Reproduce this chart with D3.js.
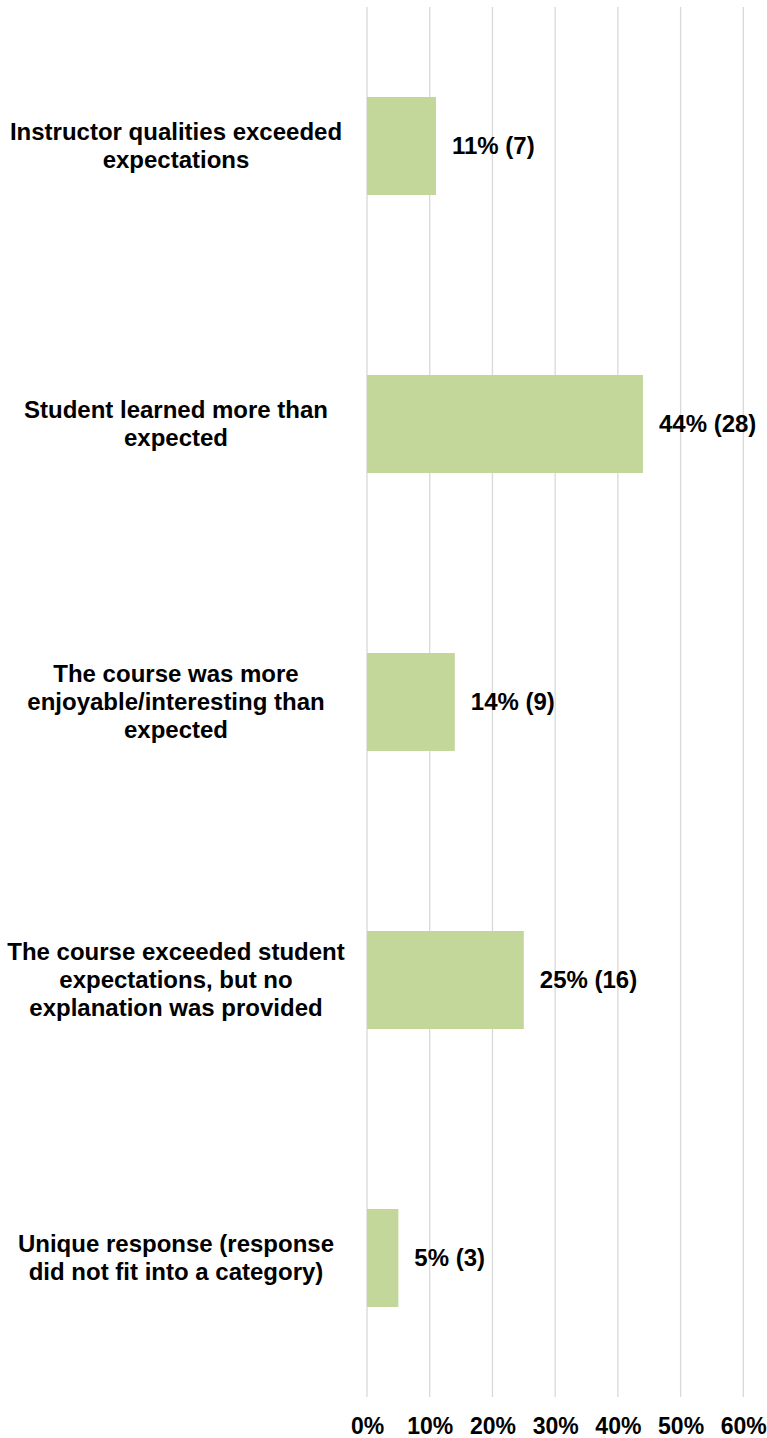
<!DOCTYPE html>
<html>
<head>
<meta charset="utf-8">
<script src="https://cdn.jsdelivr.net/npm/d3@7"></script>
<style>
  html, body { margin: 0; padding: 0; background: #ffffff; }
  svg { display: block; }
  text { font-family: "Liberation Sans", Arial, sans-serif; font-weight: bold; fill: #000; }
</style>
</head>
<body>
<script>
const categories = [
  "Instructor qualities exceeded\nexpectations",
  "Student learned more than\nexpected",
  "The course was more\nenjoyable/interesting than\nexpected",
  "The course exceeded student\nexpectations, but no\nexplanation was provided",
  "Unique response (response\ndid not fit into a category)"
];
const percents = [0.11, 0.44, 0.14, 0.25, 0.05];
const counts = [7, 28, 9, 16, 3];
const tickValues = [0, 0.1, 0.2, 0.3, 0.4, 0.5, 0.6];

const W = 767, H = 1438;
const svg = d3.select("body").append("svg").attr("width", W).attr("height", H);

const x = d3.scaleLinear().domain([0, 0.6]).range([367, 743.3]);
const y = d3.scaleBand().domain(categories).range([7, 1397]).paddingInner(0.6475).paddingOuter(0.32375);

// gridlines
svg.append("g").selectAll("line").data(tickValues).join("line")
  .attr("x1", d => x(d)).attr("x2", d => x(d))
  .attr("y1", 7).attr("y2", 1397)
  .attr("stroke", "#d9d9d9").attr("stroke-width", 1.3);

// x axis labels
const xAxis = d3.axisBottom(x).tickValues(tickValues).tickFormat(d3.format(".0%")).tickSize(0).tickPadding(0);
const ga = svg.append("g").attr("transform", "translate(0,1417)").call(xAxis);
ga.select(".domain").remove();
ga.selectAll("text").attr("font-size", 23).attr("font-family", "Liberation Sans, Arial, sans-serif")
  .attr("font-weight", "bold").attr("fill", "#000").attr("dy", "0.73em");

// bars
svg.append("g").selectAll("rect").data(categories).join("rect")
  .attr("x", x(0))
  .attr("y", d => y(d))
  .attr("width", (d, i) => x(percents[i]) - x(0))
  .attr("height", y.bandwidth())
  .attr("fill", "#c4d79b");

// value labels
svg.append("g").selectAll("text").data(categories).join("text")
  .attr("x", (d, i) => x(percents[i]) + 16)
  .attr("y", d => y(d) + y.bandwidth() / 2)
  .attr("dy", "0.35em")
  .attr("font-size", 24)
  .text((d, i) => Math.round(percents[i] * 100) + "% (" + counts[i] + ")");

// category labels
const lh = 28;
const cl = svg.append("g").selectAll("text").data(categories).join("text")
  .attr("text-anchor", "middle")
  .attr("font-size", 24)
  .attr("y", d => y(d) + y.bandwidth() / 2);
cl.each(function(d) {
  const lines = d.split("\n");
  const t = d3.select(this);
  const cy = y(d) + y.bandwidth() / 2;
  lines.forEach((ln, k) => {
    t.append("tspan").attr("x", 176)
      .attr("y", cy + (k - (lines.length - 1) / 2) * lh)
      .attr("dy", "0.33em")
      .text(ln);
  });
});
</script>
</body>
</html>
